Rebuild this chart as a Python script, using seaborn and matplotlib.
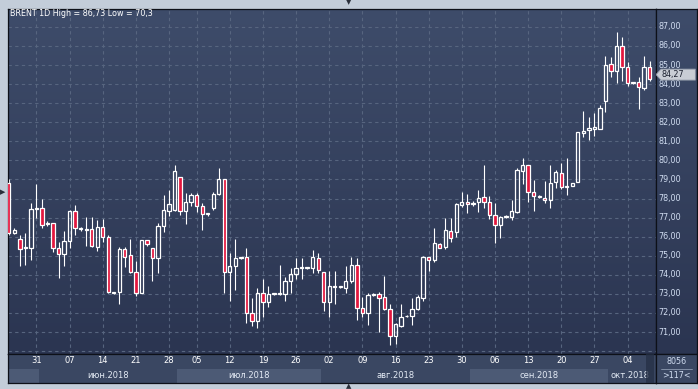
import numpy as np
import pandas as pd
import seaborn as sns
import matplotlib.pyplot as plt
import matplotlib.transforms as mtransforms
from matplotlib.colors import LinearSegmentedColormap
from matplotlib.patches import Polygon

# === 1. Data ===
ticker = "BRENT"
timeframe = "1D"

# daily bars Sun-Fri, no Saturdays, no bar on 4 July
days = pd.date_range("2018-05-25", "2018-10-09", freq="D")
days = days[(days.dayofweek != 5) & (days != pd.Timestamp("2018-07-04"))]

opens = [78.80, 76.17, 75.86, 75.40, 75.39, 77.45, 77.49, 76.67, 76.70, 75.39,
         75.07, 75.76, 77.35, 76.38, 76.35, 76.38, 75.48, 76.49, 75.97, 73.03,
         73.12, 75.34, 75.02, 74.16, 73.06, 75.83, 75.39, 74.86, 76.58, 77.36,
         77.40, 79.11, 77.36, 77.82, 78.17, 77.61, 77.19, 77.49, 78.24, 79.01,
         74.13, 74.46, 74.88, 74.92, 71.98, 71.59, 73.03, 72.56, 72.99, 72.99,
         72.99, 73.66, 74.04, 74.36, 74.37, 74.37, 74.86, 74.13, 72.56, 73.38,
         73.38, 73.29, 73.66, 74.50, 72.24, 71.98, 72.94, 72.98, 72.82, 72.19,
         70.79, 71.33, 71.82, 71.84, 72.19, 72.77, 74.92, 74.78, 75.60, 75.48,
         76.30, 76.26, 77.64, 77.80, 77.74, 77.80, 78.06, 77.80, 77.12, 76.59,
         77.01, 77.05, 77.31, 79.44, 79.74, 78.36, 78.06, 78.05, 77.91, 78.88,
         79.32, 78.62, 78.67, 78.88, 81.45, 81.59, 81.66, 81.66, 83.13, 85.04,
         84.71, 86.00, 84.88, 84.04, 84.11, 83.81, 84.88]
highs = [79.00, 76.44, 76.09, 76.17, 77.75, 78.74, 77.96, 76.82, 76.73, 75.74,
         76.31, 77.40, 77.66, 76.49, 77.05, 77.05, 76.87, 76.93, 76.09, 73.10,
         75.44, 75.44, 75.86, 74.72, 75.83, 75.83, 75.39, 76.73, 78.19, 78.45,
         79.76, 79.15, 78.27, 78.27, 78.27, 77.75, 77.24, 78.36, 79.58, 79.05,
         75.13, 75.90, 74.92, 75.39, 72.77, 73.29, 73.76, 73.43, 73.05, 74.51,
         73.90, 74.34, 74.86, 74.86, 74.43, 75.30, 75.13, 74.15, 74.22, 74.22,
         73.43, 74.46, 74.92, 74.86, 72.85, 73.03, 73.03, 73.12, 73.94, 72.47,
         71.49, 72.47, 71.90, 72.77, 72.94, 74.99, 74.95, 76.44, 75.65, 76.98,
         76.98, 77.78, 78.34, 78.24, 77.87, 78.45, 79.76, 78.13, 77.78, 77.08,
         77.14, 77.92, 79.58, 80.13, 79.76, 78.97, 78.20, 78.90, 79.76, 79.51,
         79.85, 80.13, 78.82, 81.48, 82.59, 82.26, 82.50, 82.91, 85.48, 85.41,
         86.73, 86.45, 85.14, 84.13, 84.36, 85.48, 85.20]
lows = [76.10, 76.14, 74.46, 74.51, 74.78, 77.00, 76.44, 76.56, 75.21, 73.81,
        74.48, 75.42, 76.09, 76.31, 75.51, 75.48, 75.27, 75.74, 73.03, 73.01,
        72.45, 74.43, 74.11, 72.91, 73.03, 75.51, 73.69, 74.11, 76.26, 77.08,
        77.36, 77.14, 76.66, 77.61, 77.31, 76.35, 77.08, 77.40, 78.19, 73.03,
        72.63, 73.20, 74.85, 71.49, 71.31, 71.19, 71.80, 72.33, 72.93, 72.94,
        72.62, 73.06, 73.76, 73.76, 74.33, 74.11, 74.11, 72.12, 71.80, 72.47,
        73.29, 73.06, 73.55, 71.63, 71.80, 71.37, 72.89, 71.02, 72.15, 70.30,
        70.37, 71.24, 71.78, 71.37, 72.15, 72.64, 74.22, 74.69, 75.39, 75.37,
        75.74, 76.00, 77.54, 77.22, 77.63, 77.31, 77.49, 76.91, 75.65, 75.91,
        76.96, 76.87, 77.22, 78.74, 77.84, 77.36, 78.01, 77.75, 77.49, 78.53,
        78.50, 78.20, 78.65, 78.86, 81.21, 81.07, 81.30, 81.63, 82.56, 84.36,
        84.04, 84.16, 83.92, 84.02, 82.68, 83.69, 84.18]
closes = [76.17, 76.35, 75.34, 75.45, 77.43, 77.53, 76.59, 76.70, 75.39, 75.07,
          75.76, 77.35, 76.44, 76.44, 76.38, 75.51, 76.49, 75.97, 73.08, 73.08,
          75.34, 74.95, 74.16, 73.06, 75.83, 75.60, 74.86, 76.56, 77.40, 77.71,
          79.43, 77.36, 77.82, 78.19, 77.61, 77.19, 77.22, 78.24, 79.02, 74.13,
          74.46, 74.86, 74.90, 71.98, 71.59, 73.03, 72.56, 72.99, 73.01, 73.03,
          73.66, 74.04, 74.34, 74.38, 74.40, 74.92, 74.23, 72.56, 73.41, 73.40,
          73.41, 73.66, 74.50, 72.24, 71.98, 72.94, 72.96, 72.77, 72.19, 70.79,
          71.42, 71.77, 71.86, 72.19, 72.82, 74.92, 74.78, 75.65, 75.42, 76.35,
          75.91, 77.71, 77.82, 77.70, 77.76, 78.03, 77.80, 77.12, 76.59, 77.01,
          77.08, 77.36, 79.50, 79.74, 78.36, 78.13, 78.13, 77.91, 78.83, 79.37,
          78.59, 78.67, 78.80, 81.47, 81.56, 81.70, 81.75, 82.75, 85.00, 84.71,
          86.00, 84.88, 84.04, 84.11, 83.83, 84.88, 84.27]

month_labels = {6: "июн.2018", 7: "июл.2018", 8: "авг.2018", 9: "сен.2018", 10: "окт.2018"}
price_levels = list(range(71, 88))
session_count = "8056"

# === 2. Prepare arrays ===
df = pd.DataFrame({"date": days, "open": opens, "high": highs, "low": lows, "close": closes})
df["x"] = np.arange(len(df))
df["up"] = df["close"] >= df["open"]
df["top"] = df[["open", "close"]].max(axis=1)
df["bot"] = df[["open", "close"]].min(axis=1)
df["h"] = (df["top"] - df["bot"]).clip(lower=0.04)

thursdays = df[df["date"].dt.dayofweek == 3]
tick_pos = thursdays["x"].values
tick_lbl = thursdays["date"].dt.strftime("%d").values

def fmt(v):
    return f"{v:g}".replace(".", ",")

# === 3. Style ===
sns.set_style("dark")
plt.rcParams["font.family"] = ["DejaVu Sans"]

BG_TOP, BG_BOT = "#3e4c6a", "#2b3551"
GRID = "#57657f"
RED = "#e3173e"
TXT = "#d0dcf0"
bg_cmap = LinearSegmentedColormap.from_list("bg", [BG_BOT, BG_TOP])
grad = np.linspace(0, 1, 256).reshape(-1, 1)

W, H = 698, 389
def box(l, t, r, b):
    return [l / W, 1 - b / H, (r - l) / W, (b - t) / H]

fig = plt.figure(figsize=(W / 100, H / 100), dpi=100)
fig.patch.set_facecolor("#c3cdd9")

ax = fig.add_axes(box(8, 9, 656, 354))
ax_r = fig.add_axes(box(656, 9, 697, 354))
ax_d = fig.add_axes(box(8, 354, 656, 383))
ax_c = fig.add_axes(box(656, 354, 697, 383))

xlim = (-0.15, 117.15)
ylim = (69.85, 87.94)

for a in (ax, ax_r):
    a.imshow(grad, extent=[0, 1, 0, 1], transform=a.transAxes, origin="lower",
             aspect="auto", cmap=bg_cmap, zorder=0)

# === 4. Candles ===
ax.set_axisbelow(True)
ax.vlines(df["x"], df["top"], df["high"], color="white", lw=0.8, zorder=2)
ax.vlines(df["x"], df["low"], df["bot"], color="white", lw=0.8, zorder=2)
up = df[df["up"]]
dn = df[~df["up"]]
ax.bar(up["x"], up["h"], bottom=up["bot"], width=0.6, facecolor="none",
       edgecolor="white", linewidth=0.9, zorder=3)
ax.bar(dn["x"], dn["h"], bottom=dn["bot"], width=0.6, facecolor=RED,
       edgecolor="white", linewidth=0.9, zorder=3)

ax.set_xticks(tick_pos)
ax.set_yticks(range(70, 89))
ax.grid(True, color=GRID, ls=(0, (3, 3)), lw=0.8)
ax.tick_params(length=0, labelbottom=False, labelleft=False)
ax.set_xlim(xlim)
ax.set_ylim(ylim)

# === 5. Price panel ===
ax_r.set_ylim(ylim)
ax_r.set_xlim(0, 1)
ax_r.set_xticks([])
ax_r.set_yticks([])
tr = mtransforms.blended_transform_factory(ax_r.transAxes, ax_r.transData)
for v in price_levels:
    ax_r.text(0.06, v, f"{v},00", transform=tr, color=TXT, fontsize=5.8,
              va="center", ha="left")
last = closes[-1]
tag_y = last + 0.23
tag = Polygon([[0.0, tag_y], [0.12, tag_y + 0.29], [0.96, tag_y + 0.29],
               [0.96, tag_y - 0.29], [0.12, tag_y - 0.29]], closed=True,
              transform=tr, facecolor="#c9cdd5", edgecolor="#8a93a3", lw=0.6, zorder=5)
ax_r.add_patch(tag)
ax_r.text(0.14, tag_y, f"{last:.2f}".replace(".", ","), transform=tr, color="#1c2130",
          fontsize=5.8, va="center", ha="left", zorder=6)

# === 6. Date axis ===
ax_d.set_xlim(xlim)
ax_d.set_ylim(0, 1)
ax_d.set_facecolor("#3a4762")
ax_d.set_xticks([])
ax_d.set_yticks([])
for p, d in zip(tick_pos, tick_lbl):
    ax_d.text(p, 0.76, d, color="white", fontsize=6, ha="center", va="center")
for i, (m, grp) in enumerate(df.groupby(df["date"].dt.month)):
    start = max(grp["x"].min() - 0.5, xlim[0])
    end = min(grp["x"].max() + 0.5, xlim[1])
    if i % 2 == 0:
        ax_d.axvspan(start, end, ymin=0, ymax=0.5, color="#4c5a75", lw=0, zorder=0.5)
    if m in month_labels:
        ax_d.text((start + end) / 2, 0.27, month_labels[m], color="#e4ebf5",
                  fontsize=6, ha="center", va="center")
n = len(df)
ax_d.axvspan(n - 1 - 0.75, n - 1 + 0.75, color="#252f45", alpha=0.75, lw=0, zorder=5)

# corner box
ax_c.set_facecolor("#3a4762")
ax_c.set_xticks([])
ax_c.set_yticks([])
ax_c.set_xlim(0, 1)
ax_c.set_ylim(0, 1)
ax_c.text(0.5, 0.74, session_count, color=TXT, fontsize=5.8, ha="center", va="center")
ax_c.plot([0.12, 0.88], [0.5, 0.5], color="#8d9ab0", lw=0.6)
ax_c.text(0.5, 0.27, f">{n}<", color=TXT, fontsize=5.8, ha="center", va="center")

for a in (ax, ax_r, ax_d, ax_c):
    for s in a.spines.values():
        s.set_color("#0d1018")
        s.set_linewidth(0.9)

# === 7. Header and frame markers ===
fig.text(10 / W, 1 - 14 / H,
         f"{ticker} {timeframe} High = {fmt(max(highs))} Low = {fmt(min(lows))}",
         color="white", fontsize=5.8, ha="left", va="center")
fig.text(349 / W, 1 - 2.5 / H, "▼", color="#2a2f3a", fontsize=5, ha="center", va="center")
fig.text(349 / W, 1 - 386 / H, "▲", color="#2a2f3a", fontsize=5, ha="center", va="center")
fig.text(3 / W, 1 - 192 / H, "▶", color="#2a2f3a", fontsize=5, ha="center", va="center")

plt.savefig("out.png", dpi=100, facecolor=fig.get_facecolor())
